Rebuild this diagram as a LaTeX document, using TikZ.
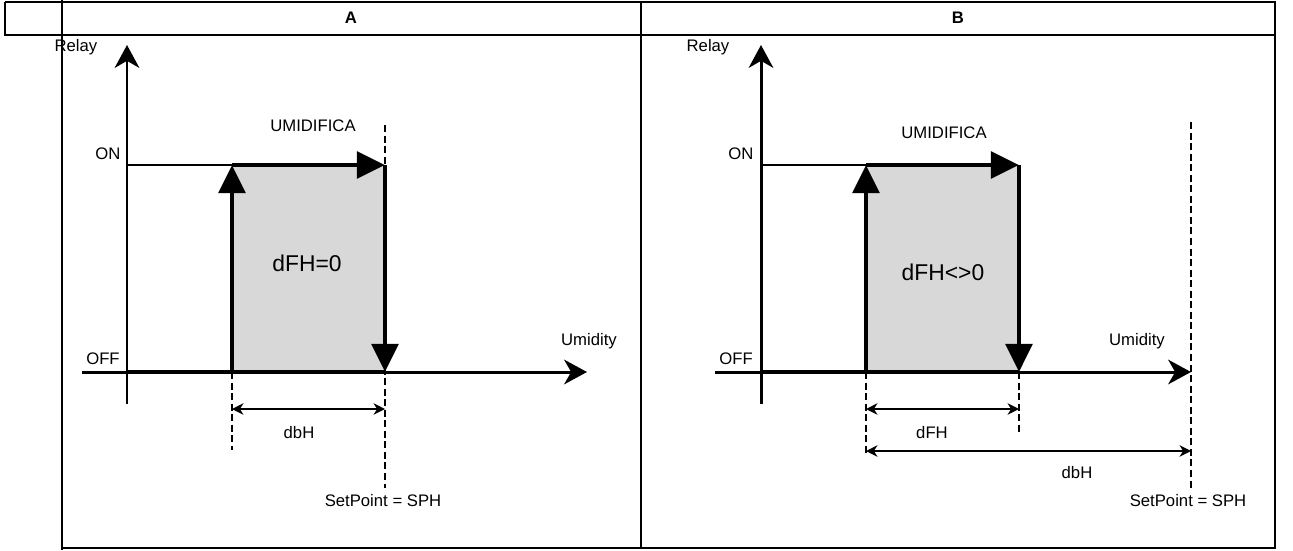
\documentclass[tikz,border=0pt]{standalone}
\usepackage{fontspec}
\setmainfont{Liberation Sans}
\usetikzlibrary{arrows.meta}

\definecolor{pulsefill}{RGB}{216,216,216}

\begin{document}
\begin{tikzpicture}[x = 0.2mm, y = -0.2mm,
        lbl/.style = {inner sep = 0pt, font = \fontsize{9.5}{11}\selectfont},
        big/.style = {inner sep = 0pt, font = \fontsize{13}{15}\selectfont},
        frame/.style = {line width = 1.1pt},
        axis/.style = {line width = 1.7pt, -{Stealth[length = 13pt, width = 14pt, inset = 4pt]}},
        pulse/.style = {line width = 2.8pt, -{Triangle[length = 16pt, width = 15pt]}},
        guide/.style = {line width = 0.6pt, dash pattern = on 4pt off 2pt},
        dim/.style = {line width = 0.8pt, {Stealth[length = 6.5pt, width = 6.5pt, inset = 2pt]}-{Stealth[length = 6.5pt, width = 6.5pt, inset = 2pt]}}]
    \useasboundingbox (0, 0) rectangle (1293, 550);
    % table
    \draw[frame] (5, 2) -- (1275, 2) -- (1275, 548) -- (62, 548);
    \draw[frame] (5, 2) -- (5, 35) -- (1275, 35);
    \draw[frame] (62, 0) -- (62, 550);
    \draw[frame] (641, 2) -- (641, 548);
    \node[lbl, font = \fontsize{9.5}{11}\selectfont\bfseries] (hA) at (351, 18) {A};
    \node[lbl, font = \fontsize{9.5}{11}\selectfont\bfseries] (hB) at (958, 18) {B};
    % A
    \begin{scope}
        \coordinate (a-o) at (127, 372);
        \coordinate (a-yb) at (127, 404);
        \coordinate (a-yt) at (127, 45);
        \coordinate (a-xl) at (82, 372);
        \coordinate (a-xr) at (587, 372);
        \coordinate (a-on) at (127, 165);
        \coordinate (a-p1) at (232, 372);
        \coordinate (a-p2) at (232, 165);
        \coordinate (a-p3) at (385, 165);
        \coordinate (a-p4) at (385, 372);
        \coordinate (a-g1) at (385, 125);
        \coordinate (a-g2) at (385, 488);
        \coordinate (a-g3) at (232, 450);
        \coordinate (a-d1) at (232, 409);
        \coordinate (a-d2) at (385, 409);
        \fill[pulsefill] (a-p2) rectangle (a-p4);
        \draw[guide] (a-g1) -- (a-g2);
        \draw[guide] (a-p1) -- (a-g3);
        \draw[axis] (a-yb) -- (a-yt);
        \draw[axis] (a-xl) -- (a-xr);
        \draw[line width = 0.9pt] (a-on) -- (a-p2);
        \draw[line width = 2.8pt] (a-o) -- (a-p4);
        \draw[pulse] (a-p1) -- (a-p2);
        \draw[pulse] (a-p2) -- (a-p3);
        \draw[pulse] (a-p3) -- (a-p4);
        \draw[dim] (a-d1) -- (a-d2);
        \node[lbl] (a-relay) at (76, 47) {Relay};
        \node[lbl] (a-onl) at (108, 154) {ON};
        \node[lbl] (a-offl) at (103, 359) {OFF};
        \node[lbl] (a-umi) at (313, 126) {UMIDIFICA};
        \node[big] (a-dfh) at (307, 263) {dFH=0};
        \node[lbl] (a-x) at (589, 341) {Umidity};
        \node[lbl] (a-dbh) at (299, 433) {dbH};
        \node[lbl] (a-sp) at (383, 501) {SetPoint = SPH};
    \end{scope}
    % B
    \begin{scope}[xshift = 126.8mm]
        \coordinate (b-o) at (127, 372);
        \coordinate (b-yb) at (127, 404);
        \coordinate (b-yt) at (127, 45);
        \coordinate (b-xl) at (81, 372);
        \coordinate (b-xr) at (557, 372);
        \coordinate (b-on) at (127, 165);
        \coordinate (b-p1) at (232, 372);
        \coordinate (b-p2) at (232, 165);
        \coordinate (b-p3) at (385, 165);
        \coordinate (b-p4) at (385, 372);
        \coordinate (b-g1) at (557, 122);
        \coordinate (b-g2) at (557, 488);
        \coordinate (b-g3) at (232, 455);
        \coordinate (b-g4) at (385, 433);
        \coordinate (b-d1) at (232, 409);
        \coordinate (b-d2) at (385, 409);
        \coordinate (b-d3) at (232, 451);
        \coordinate (b-d4) at (557, 451);
        \fill[pulsefill] (b-p2) rectangle (b-p4);
        \draw[guide] (b-g1) -- (b-g2);
        \draw[guide] (b-p1) -- (b-g3);
        \draw[guide] (b-p4) -- (b-g4);
        \draw[axis] (b-yb) -- (b-yt);
        \draw[axis] (b-xl) -- (b-xr);
        \draw[line width = 0.9pt] (b-on) -- (b-p2);
        \draw[line width = 2.8pt] (b-o) -- (b-p4);
        \draw[pulse] (b-p1) -- (b-p2);
        \draw[pulse] (b-p2) -- (b-p3);
        \draw[pulse] (b-p3) -- (b-p4);
        \draw[dim] (b-d1) -- (b-d2);
        \draw[dim] (b-d3) -- (b-d4);
        \node[lbl] (b-relay) at (74, 47) {Relay};
        \node[lbl] (b-onl) at (107, 154) {ON};
        \node[lbl] (b-offl) at (102, 359) {OFF};
        \node[lbl] (b-umi) at (310, 133) {UMIDIFICA};
        \node[big] (b-dfh) at (309, 272) {dFH<>0};
        \node[lbl] (b-x) at (503, 341) {Umidity};
        \node[lbl] (b-dfhl) at (298, 433) {dFH};
        \node[lbl] (b-dbh) at (443, 473) {dbH};
        \node[lbl] (b-sp) at (554, 501) {SetPoint = SPH};
    \end{scope}
\end{tikzpicture}
\end{document}
